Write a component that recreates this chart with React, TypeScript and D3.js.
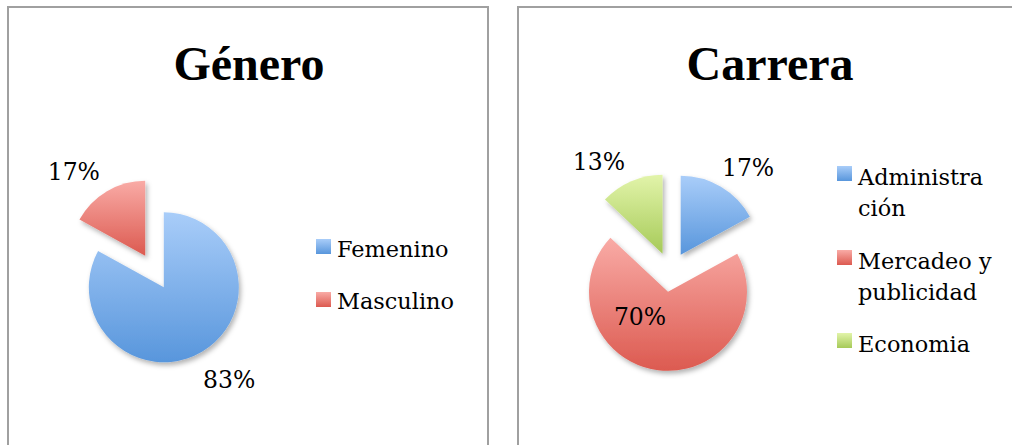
import React from "react";
import * as d3 from "d3";

const generoLabels = ["Femenino", "Masculino"];
const generoValues = [83, 17];
const carreraLabels = ["Administración", "Mercadeo y publicidad", "Economia"];
const carreraLegendLines = [["Administra", "ción"], ["Mercadeo y", "publicidad"], ["Economia"]];
const carreraValues = [17, 70, 13];

const blue = ["#a9cdf9", "#5896dc"];
const red = ["#f9aba6", "#dc5a50"];
const green = ["#e2f4aa", "#a6ca58"];

const W = 1012, H = 445;
const serif = "'DejaVu Serif', serif";
const titleFont = "'Liberation Serif', serif";

type PieProps = {
  id: string;
  values: number[];
  cx: number; cy: number; r: number; explode: number;
  insideIdx?: number;
};

function Pie({ id, values, cx, cy, r, explode, insideIdx }: PieProps) {
  const total = d3.sum(values);
  const arcs = d3.pie<number>().sort(null).value((d) => d)(values);
  const arc = d3.arc<d3.PieArcDatum<number>>().innerRadius(0).outerRadius(r);
  const fmt = d3.format(".0%");
  return (
    <g>
      {arcs.map((a, i) => {
        const mid = (a.startAngle + a.endAngle) / 2;
        const dx = Math.sin(mid), dy = -Math.cos(mid);
        const ox = cx + dx * explode, oy = cy + dy * explode;
        const label = fmt(a.value / total);
        let lx: number, ly: number, anchor: string;
        if (i === insideIdx) {
          const c = arc.centroid(a);
          lx = ox + c[0] - 23; ly = oy + c[1] - 6; anchor = "middle";
        } else {
          const d = r + explode + 8;
          lx = cx + dx * d - 3; ly = cy + dy * d;
          anchor = dx < 0 ? "end" : "start";
          if (dy > 0) ly += 29; else ly -= 4;
        }
        return (
          <g key={i}>
            <path
              d={arc(a) as string}
              transform={`translate(${ox},${oy})`}
              fill={`url(#${id}-g${i})`}
              filter="url(#shadow)"
            />
            <text x={lx} y={ly} textAnchor={anchor} fontFamily={serif} fontSize={23.5} fill="#000">
              {label}
            </text>
          </g>
        );
      })}
    </g>
  );
}

export default function App() {
  const gens = [
    { id: "gen", colors: [blue, red] },
    { id: "car", colors: [blue, red, green] },
  ];
  return (
    <svg width={W} height={H} style={{ position: "absolute", left: 0, top: 0, display: "block", background: "#fff" }}>
      <defs>
        <filter id="shadow" x="-20%" y="-20%" width="140%" height="140%">
          <feDropShadow dx="2" dy="3" stdDeviation="2.5" floodColor="#000" floodOpacity="0.3" />
        </filter>
        {gens.map((g) =>
          g.colors.map((c, i) => (
            <linearGradient key={g.id + i} id={`${g.id}-g${i}`} x1="0" y1="0" x2="0" y2="1">
              <stop offset="0" stopColor={c[0]} />
              <stop offset="1" stopColor={c[1]} />
            </linearGradient>
          ))
        )}
      </defs>
      <rect x={8} y={7} width={480} height={480} fill="#fff" stroke="#a0a0a0" strokeWidth={2} />
      <rect x={518} y={7} width={520} height={480} fill="#fff" stroke="#a0a0a0" strokeWidth={2} />

      <text x={249} y={80} textAnchor="middle" fontFamily={titleFont} fontWeight="bold" fontSize={48}>Género</text>
      <text x={770} y={80} textAnchor="middle" fontFamily={titleFont} fontWeight="bold" fontSize={48}>Carrera</text>

      <Pie id="gen" values={generoValues} cx={154.5} cy={271.5} r={75} explode={18.3} />
      <Pie id="car" values={carreraValues} cx={670.5} cy={272} r={79} explode={20} insideIdx={1} />

      {generoLabels.map((l, i) => (
        <g key={l}>
          <rect x={316} y={239 + i * 53} width={15} height={15} fill={`url(#gen-g${i})`} />
          <text x={337} y={257 + i * 52} fontFamily={serif} fontSize={22.4}>{l}</text>
        </g>
      ))}
      {carreraLegendLines.map((lines, i) => {
        const top = [166, 250, 333][i];
        return (
          <g key={carreraLabels[i]}>
            <rect x={837} y={top} width={15} height={15} fill={`url(#car-g${i})`} />
            {lines.map((t, j) => (
              <text key={t} x={858} y={top + 19 + j * 31} fontFamily={serif} fontSize={22.4}>{t}</text>
            ))}
          </g>
        );
      })}
    </svg>
  );
}
